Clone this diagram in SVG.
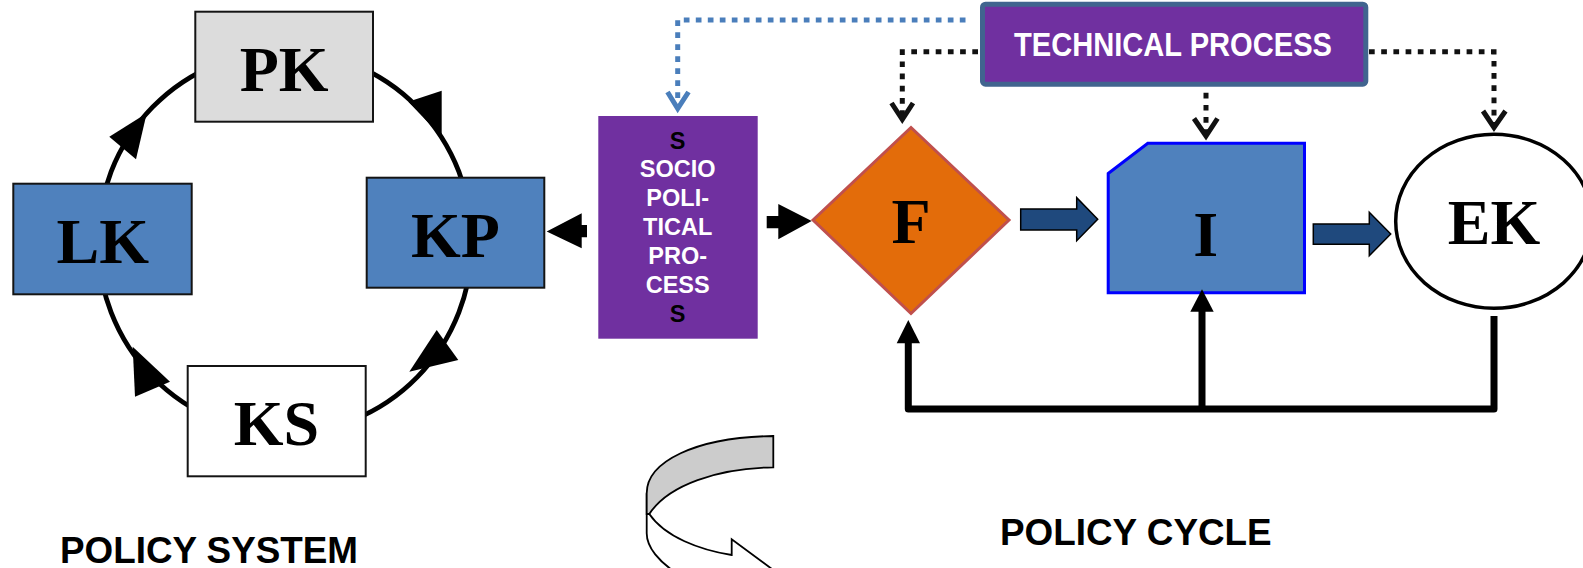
<svg xmlns="http://www.w3.org/2000/svg" width="1583" height="568" viewBox="0 0 1583 568">
  <defs>
    <style>
      .box { stroke: #141414; stroke-width: 2; }
      .big { font-family: "Liberation Serif", "Times New Roman", serif; font-weight: bold; font-size: 64px; fill: #000; text-anchor: middle; }
      .cap { font-family: "Liberation Sans", Arial, sans-serif; font-weight: bold; font-size: 37px; fill: #000; }
      .sp { font-family: "Liberation Sans", Arial, sans-serif; font-weight: bold; font-size: 23.5px; text-anchor: middle; }
      .dotk { fill: none; stroke: #111; stroke-width: 5; stroke-dasharray: 5.7 6.5; }
      .dotb { fill: none; stroke: #4a7ebb; stroke-width: 5; stroke-dasharray: 5.7 6.3; }
      .veek { fill: none; stroke: #111; stroke-width: 5; stroke-linejoin: miter; }
      .veeb { fill: none; stroke: #4a7ebb; stroke-width: 5; stroke-linejoin: miter; }
      .solid { fill: none; stroke: #000; stroke-width: 7; stroke-linejoin: round; }
      .head { fill: #000; }
      .block { fill: #1f497d; stroke: #000; stroke-width: 1.5; }
    </style>
  </defs>

  <!-- policy system ring -->
  <g id="ring">
    <ellipse cx="285" cy="242" rx="187" ry="191" fill="none" stroke="#000" stroke-width="4.8"/>
    <polygon class="head" points="146.7,113.3 109.3,136.7 136,159.3"/>
    <polygon class="head" points="441.7,136.7 408.3,101.7 441.7,90.7"/>
    <polygon class="head" points="409.3,371.7 436.7,330 458.3,360"/>
    <polygon class="head" points="132.7,346.7 170,381.7 135,396.7"/>
  </g>

  <g id="node-pk">
    <rect class="box" x="195.3" y="11.7" width="177.7" height="110" fill="#dcdcdc"/>
    <text class="big" x="284.2" y="90.7">PK</text>
  </g>
  <g id="node-lk">
    <rect class="box" x="13.3" y="183.7" width="178.4" height="110.6" fill="#4f81bd"/>
    <text class="big" x="102.8" y="263.3">LK</text>
  </g>
  <g id="node-kp">
    <rect class="box" x="366.7" y="177.7" width="177.6" height="110" fill="#4f81bd"/>
    <text class="big" x="455.5" y="256.7">KP</text>
  </g>
  <g id="node-ks">
    <rect class="box" x="187.7" y="366" width="178" height="110.3" fill="#fff"/>
    <text class="big" x="276.5" y="445">KS</text>
  </g>

  <g id="node-sociopolitical">
    <rect x="598.3" y="116" width="159.4" height="222.7" fill="#7030a0"/>
    <text class="sp" x="677.7" y="148.5" fill="#000">S</text>
    <text class="sp" x="677.7" y="177.4" fill="#fff">SOCIO</text>
    <text class="sp" x="677.7" y="206.3" fill="#fff">POLI-</text>
    <text class="sp" x="677.7" y="235.2" fill="#fff">TICAL</text>
    <text class="sp" x="677.7" y="264.1" fill="#fff">PRO-</text>
    <text class="sp" x="677.7" y="293" fill="#fff">CESS</text>
    <text class="sp" x="677.7" y="321.9" fill="#000">S</text>
  </g>

  <g id="node-technical">
    <rect x="982.5" y="4.2" width="383.3" height="80" rx="3" fill="#7030a0" stroke="#41648f" stroke-width="5"/>
    <text x="1173" y="56" font-family="'Liberation Sans', Arial, sans-serif" font-weight="bold" font-size="33" fill="#fff" text-anchor="middle" textLength="318" lengthAdjust="spacingAndGlyphs">TECHNICAL PROCESS</text>
  </g>

  <g id="node-f">
    <polygon points="813,220 911,127.5 1009,220 911,313.5" fill="#e36c0a" stroke="#c0504d" stroke-width="3"/>
    <text class="big" x="911" y="243.3">F</text>
  </g>

  <g id="node-i">
    <polygon points="1108.2,173.5 1147.8,143.2 1304.5,143.2 1304.5,292.8 1108.2,292.8" fill="#4f81bd" stroke="#0000ff" stroke-width="3"/>
    <text class="big" x="1205.8" y="256">I</text>
  </g>

  <g id="node-ek">
    <ellipse cx="1494" cy="221.3" rx="98.3" ry="87" fill="#fff" stroke="#000" stroke-width="3.5"/>
    <text class="big" x="1494" y="244">EK</text>
  </g>

  <g id="connectors">
    <!-- dotted guidance from the technical process -->
    <path class="dotb" d="M965.5,20 L677.7,20 L677.7,106"/>
    <polyline class="veeb" points="667.5,92 677.7,108.5 688.5,92"/>
    <path class="dotk" d="M978,51.7 L902.3,51.7 L902.3,118"/>
    <polyline class="veek" points="891.5,103 902.3,119.5 913,103"/>
    <path class="dotk" d="M1206,92.7 L1206,134"/>
    <polyline class="veek" points="1194,118.5 1206,136 1217.5,118.5"/>
    <path class="dotk" d="M1369,51.7 L1494,51.7 L1494,124"/>
    <polyline class="veek" points="1483,111 1494,127.5 1505.5,111"/>

    <!-- socio-political process outputs -->
    <polygon class="head" points="546.7,231.5 581.7,213.3 581.7,225 587,225 587,237.3 581.7,237.3 581.7,248.3"/>
    <polygon class="head" points="766.7,216 778.3,216 778.3,204 811.7,221 778.3,239.3 778.3,228.3 766.7,228.3"/>

    <!-- main flow -->
    <polygon class="block" points="1020.7,209 1076.7,209 1076.7,197.7 1097.7,219.3 1076.7,240.7 1076.7,230 1020.7,230"/>
    <polygon class="block" points="1313.3,224 1369.3,224 1369.3,212.3 1390.7,234 1369.3,255.7 1369.3,244.3 1313.3,244.3"/>

    <!-- feedback loop -->
    <path class="solid" d="M1494,316 L1494,409 L908.3,409 L908.3,342"/>
    <polygon class="head" points="896.7,343.3 908.3,320 920,343.3"/>
    <path class="solid" d="M1202,409 L1202,310"/>
    <polygon class="head" points="1190.3,311.7 1202,289.3 1213.7,311.7"/>
  </g>

  <!-- turning ribbon arrow -->
  <g id="cycle-arrow" stroke="#000" stroke-width="1.8" stroke-linejoin="miter">
    <path d="M646.7,493.3 L646.7,533.3 C646.7,548 660,562 675,572 L776,572 L731.7,539.3 L731.7,555 C700,550 665,537 649.3,514 Z" fill="#fff"/>
    <path d="M646.7,493.3 C646.7,462 695,437 773.3,436 L773.3,467.3 C718,468 668,485 649.3,514 L646.7,514 Z" fill="#cccccc"/>
  </g>

  <g id="labels">
    <text class="cap" x="60" y="563" textLength="298" lengthAdjust="spacingAndGlyphs">POLICY SYSTEM</text>
    <text class="cap" x="1000" y="544.5" textLength="271.7" lengthAdjust="spacingAndGlyphs">POLICY CYCLE</text>
  </g>
</svg>
